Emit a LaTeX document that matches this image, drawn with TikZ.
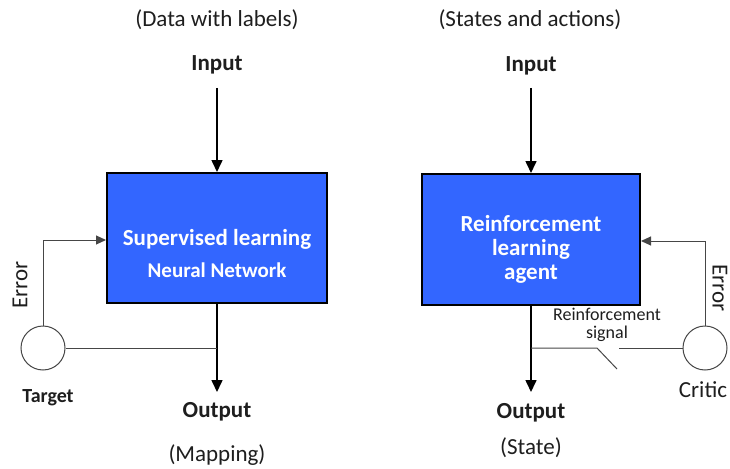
\documentclass[tikz,border=0pt]{standalone}
\usepackage{fontspec}
\setmainfont{Carlito}
\usetikzlibrary{arrows.meta,calc}
\definecolor{boxblue}{RGB}{51,102,255}
\definecolor{linegray}{RGB}{70,70,70}
\definecolor{txt}{RGB}{30,30,30}
\begin{document}
\begin{tikzpicture}[x=1pt,y=-1pt,
  lbl/.style={font=\fontsize{23}{26}\selectfont, inner sep=0pt, text=txt},
  blbl/.style={font=\fontsize{23}{26}\selectfont\bfseries, inner sep=0pt, text=txt},
  box/.style={draw=black, line width=2pt, fill=boxblue, inner sep=0pt},
  boxtext/.style={inner sep=0pt, text=white, font=\fontsize{23}{26}\selectfont\bfseries},
  mainarrow/.style={draw=black, line width=1.6pt, -{Triangle[length=12pt,width=11pt]}},
  fb/.style={draw=linegray, line width=1pt},
  fbarrow/.style={fb, -{Triangle[length=10pt,width=9pt]}},
  ring/.style={circle, draw=linegray, line width=1pt, fill=white, minimum size=44pt, inner sep=0pt}
]
\useasboundingbox (0,0) rectangle (730,468);

% ---------------- left diagram ----------------
\node[lbl] (t1) at (217,20) {(Data with labels)};
\node[blbl] (in1) at (217,65) {Input};
\node[box, minimum width=220pt, minimum height=130pt] (sl) at (217,238) {};
\node[boxtext] (slt1) at (217,239) {Supervised learning};
\node[boxtext, font=\fontsize{21}{24}\selectfont\bfseries] (slt2) at (217,270) {Neural Network};
\node[ring] (tg) at (43,348) {};
\node[blbl, font=\fontsize{20}{24}\selectfont\bfseries] (tgt) at (48,398) {Target};
\node[lbl, rotate=90] (err1) at (20,285) {Error};
\node[blbl] (out1) at (217,412) {Output};
\node[lbl] (map) at (217,455) {(Mapping)};

\coordinate (tip1) at (217,392);
\draw[mainarrow] ($(in1)+(0,23)$) -- (sl.north);
\draw[mainarrow] (sl.south) -- (tip1);
\draw[fbarrow] (tg.north) |- ([yshift=-2pt]sl.west);
\draw[fb] (tg.east) -- (sl.south |- tg.east);

% ---------------- right diagram ----------------
\node[lbl] (t2) at (530,20) {(States and actions)};
\node[blbl] (in2) at (531,66) {Input};
\node[box, minimum width=218pt, minimum height=131pt] (rl) at (531,239.5) {};
\node[boxtext, align=center, font=\fontsize{23}{24}\selectfont\bfseries] (rlt) at (531,249) {Reinforcement\\learning\\agent};
\node[ring] (cr) at (705,348) {};
\node[lbl] (crt) at (703,390) {Critic};
\node[lbl, rotate=-90] (err2) at (720,288) {Error};
\node[lbl, align=center, font=\fontsize{18}{18}\selectfont] (rs) at (607,325) {Reinforcement\\signal};
\node[blbl] (out2) at (531,413) {Output};
\node[lbl] (st) at (531,448) {(State)};

\coordinate (tip2) at (531,392);
\coordinate (swa) at (597,348);
\coordinate (swb) at (617,369);
\coordinate (swc) at (619,348);

\draw[mainarrow] ($(in2)+(0,22)$) -- (rl.north);
\draw[mainarrow] (rl.south) -- (tip2);
\draw[fbarrow] (cr.north) |- ([yshift=-1.5pt]rl.east);
\draw[fb] (cr.west) -- (swc);
\draw[fb] (rl.south |- swa) -- (swa) -- (swb);
\end{tikzpicture}
\end{document}
